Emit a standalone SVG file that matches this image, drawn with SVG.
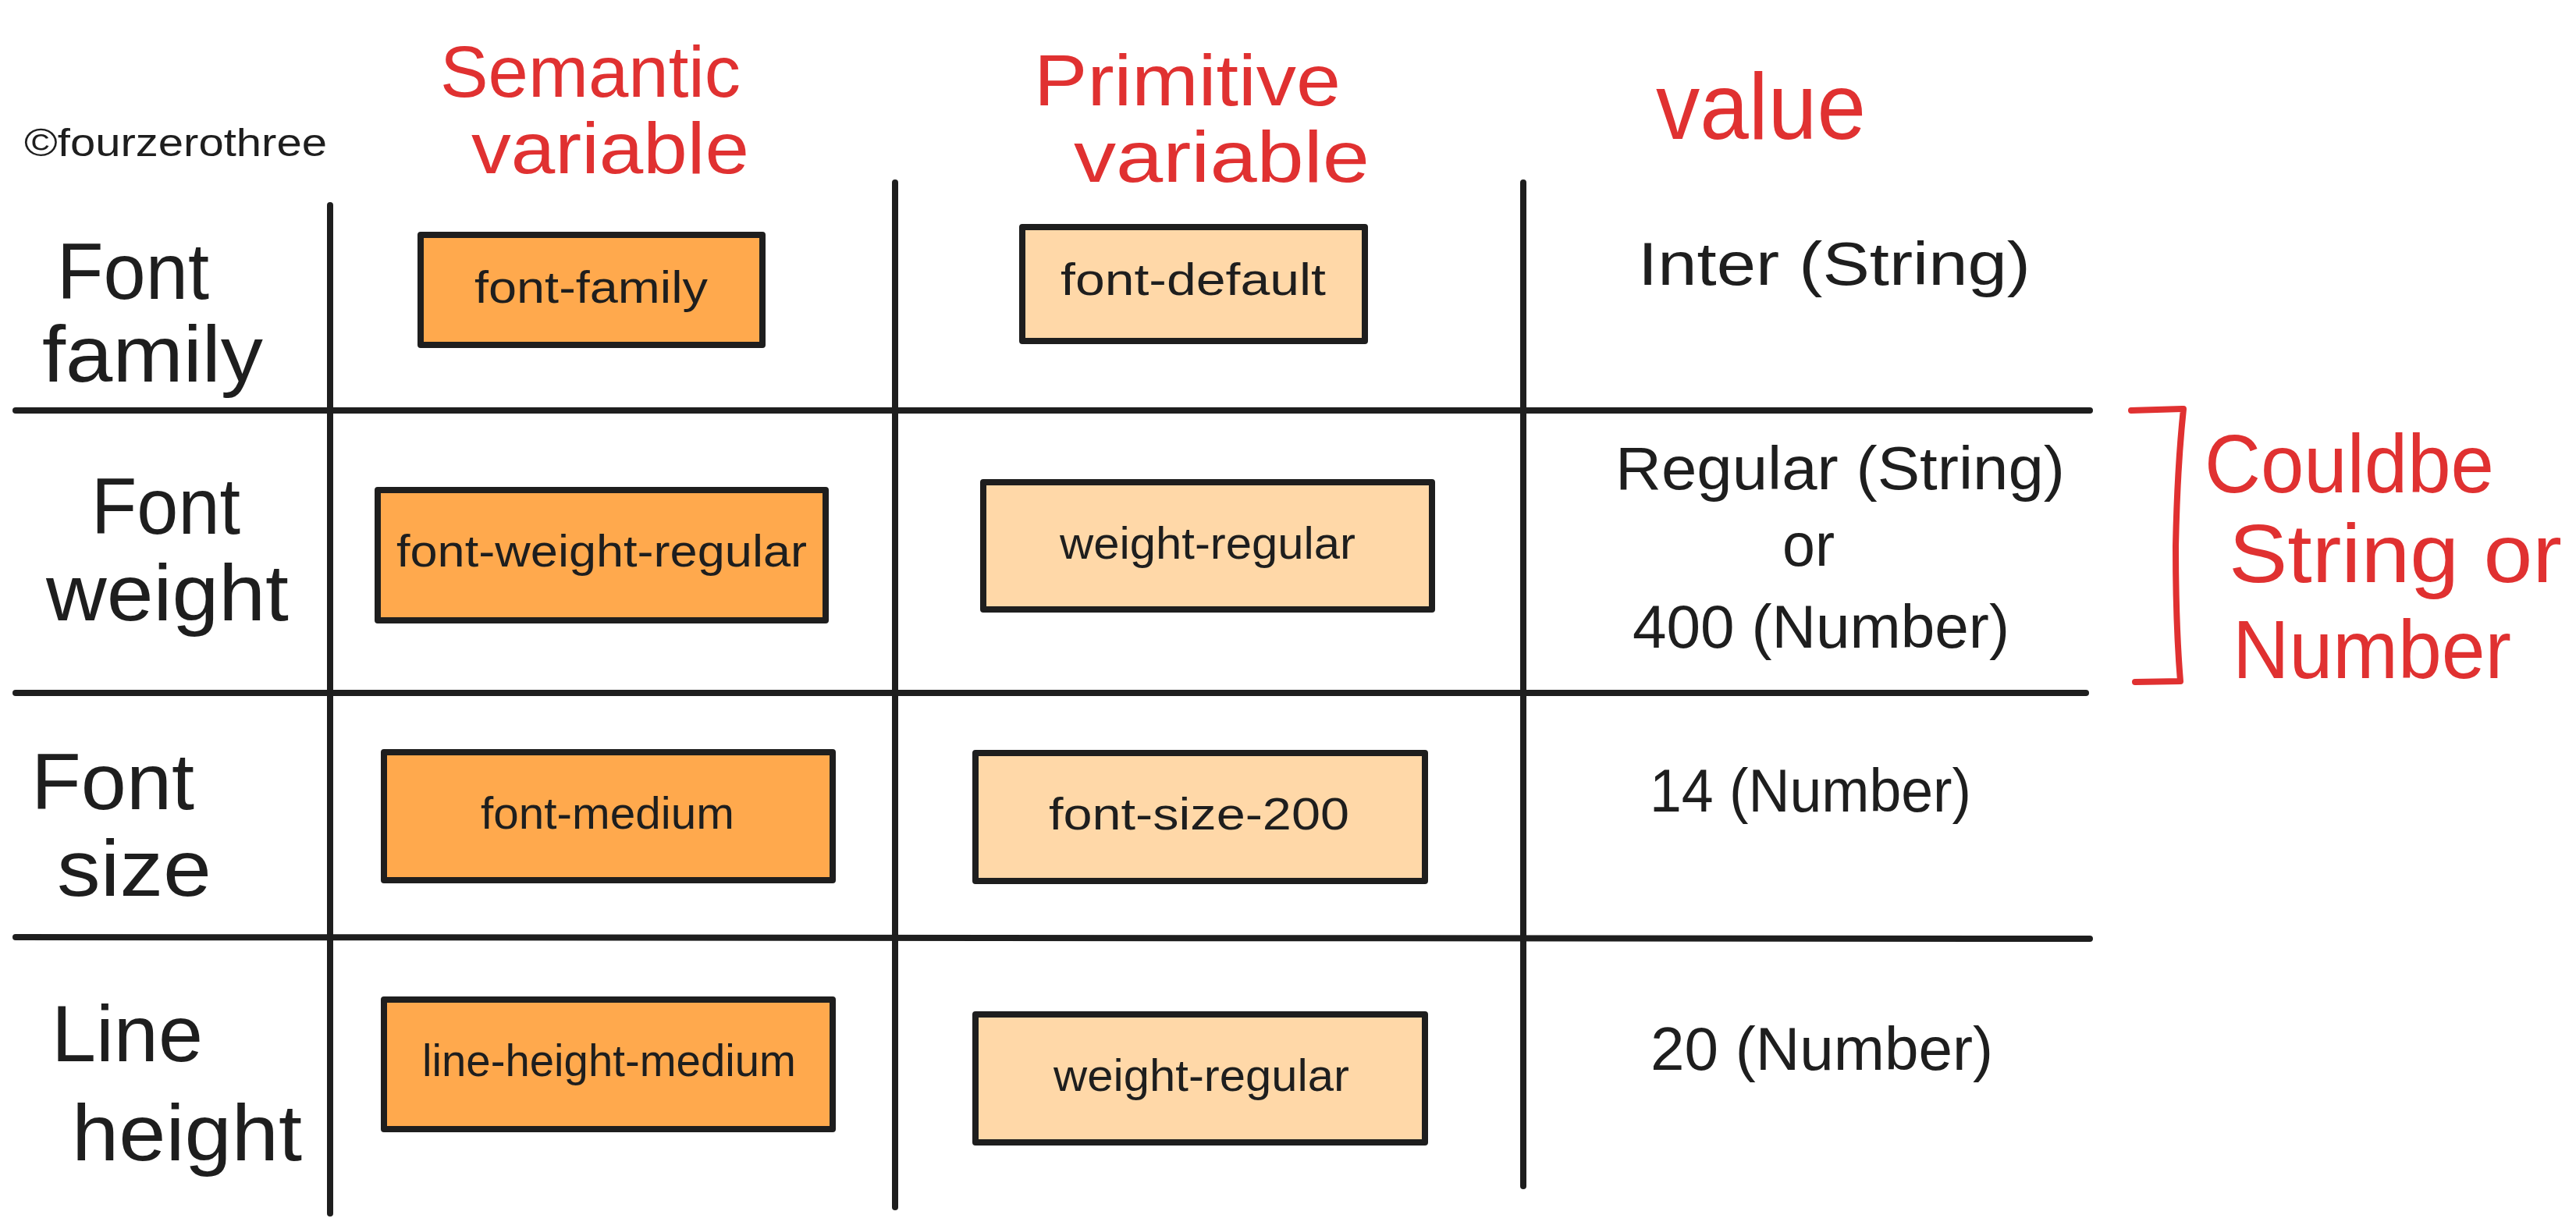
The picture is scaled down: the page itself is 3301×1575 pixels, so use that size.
<svg xmlns="http://www.w3.org/2000/svg" width="3301" height="1575" viewBox="0 0 3301 1575">
<style>
.bg{fill:#ffffff}
.grid line{stroke:#1e1e1e;stroke-width:8;stroke-linecap:round}
.sem{fill:#ffa94d;stroke:#1e1e1e;stroke-width:8;stroke-linejoin:round}
.pri{fill:#ffd8a8;stroke:#1e1e1e;stroke-width:8;stroke-linejoin:round}
text{font-family:"Liberation Sans","Noto Sans",sans-serif}
.hdr{fill:#e03131;font-size:92px}
.lbl{fill:#1e1e1e;font-size:102px}
.bt{fill:#1e1e1e;font-size:58px}
.val{fill:#1e1e1e;font-size:78px}
.note{fill:#e03131;font-size:106px}
.brk{fill:none;stroke:#e03131;stroke-width:8;stroke-linecap:round;stroke-linejoin:round}
</style>
<rect class="bg" x="0" y="0" width="3301" height="1575"/>

<g id="credit">
<text x="31" y="200" style="font-size:50px;fill:#1e1e1e" textLength="388" lengthAdjust="spacingAndGlyphs">©fourzerothree</text>
</g>

<g id="header-semantic">
<text class="hdr" x="564" y="124" textLength="385" lengthAdjust="spacingAndGlyphs">Semantic</text>
<text class="hdr" x="604" y="222" textLength="356" lengthAdjust="spacingAndGlyphs">variable</text>
</g>
<g id="header-primitive">
<text class="hdr" x="1325" y="135" textLength="393" lengthAdjust="spacingAndGlyphs">Primitive</text>
<text class="hdr" x="1376" y="233" textLength="379" lengthAdjust="spacingAndGlyphs">variable</text>
</g>
<g id="header-value">
<text class="hdr" x="2122" y="178" style="font-size:120px" textLength="269" lengthAdjust="spacingAndGlyphs">value</text>
</g>

<g id="connectors" class="grid">
<line x1="423" y1="263" x2="423" y2="1555"/>
<line x1="1147" y1="234" x2="1147" y2="1547"/>
<line x1="1952" y1="234" x2="1952" y2="1520"/>
<line x1="20" y1="526" x2="2678" y2="526"/>
<line x1="20" y1="888" x2="2673" y2="888"/>
<line x1="20" y1="1201" x2="2678" y2="1203"/>
</g>

<g id="label-font-family">
<text class="lbl" x="73" y="383" textLength="195" lengthAdjust="spacingAndGlyphs">Font</text>
<text class="lbl" x="54" y="489" textLength="283" lengthAdjust="spacingAndGlyphs">family</text>
</g>
<g id="label-font-weight">
<text class="lbl" x="117" y="684" textLength="191" lengthAdjust="spacingAndGlyphs">Font</text>
<text class="lbl" x="59" y="795" textLength="311" lengthAdjust="spacingAndGlyphs">weight</text>
</g>
<g id="label-font-size">
<text class="lbl" x="40" y="1037" textLength="209" lengthAdjust="spacingAndGlyphs">Font</text>
<text class="lbl" x="73" y="1148" textLength="198" lengthAdjust="spacingAndGlyphs">size</text>
</g>
<g id="label-line-height">
<text class="lbl" x="66" y="1360" textLength="194" lengthAdjust="spacingAndGlyphs">Line</text>
<text class="lbl" x="92" y="1487" textLength="295" lengthAdjust="spacingAndGlyphs">height</text>
</g>

<g id="sem-font-family">
<rect class="sem" x="539" y="301" width="438" height="141"/>
<text class="bt" x="608" y="388" textLength="299" lengthAdjust="spacingAndGlyphs">font-family</text>
</g>
<g id="pri-font-default">
<rect class="pri" x="1310" y="291" width="439" height="146"/>
<text class="bt" x="1359" y="378" textLength="340" lengthAdjust="spacingAndGlyphs">font-default</text>
</g>
<g id="sem-font-weight-regular">
<rect class="sem" x="484" y="628" width="574" height="167"/>
<text class="bt" x="508" y="726" textLength="526" lengthAdjust="spacingAndGlyphs">font-weight-regular</text>
</g>
<g id="pri-weight-regular-1">
<rect class="pri" x="1260" y="618" width="575" height="163"/>
<text class="bt" x="1358" y="716" textLength="379" lengthAdjust="spacingAndGlyphs">weight-regular</text>
</g>
<g id="sem-font-medium">
<rect class="sem" x="492" y="964" width="575" height="164"/>
<text class="bt" x="616" y="1062" textLength="325" lengthAdjust="spacingAndGlyphs">font-medium</text>
</g>
<g id="pri-font-size-200">
<rect class="pri" x="1250" y="965" width="576" height="164"/>
<text class="bt" x="1344" y="1063" textLength="385" lengthAdjust="spacingAndGlyphs">font-size-200</text>
</g>
<g id="sem-line-height-medium">
<rect class="sem" x="492" y="1281" width="575" height="166"/>
<text class="bt" x="541" y="1379" textLength="479" lengthAdjust="spacingAndGlyphs">line-height-medium</text>
</g>
<g id="pri-weight-regular-2">
<rect class="pri" x="1250" y="1300" width="576" height="164"/>
<text class="bt" x="1350" y="1398" textLength="379" lengthAdjust="spacingAndGlyphs">weight-regular</text>
</g>

<g id="value-font-family">
<text class="val" x="2099" y="365" textLength="503" lengthAdjust="spacingAndGlyphs">Inter (String)</text>
</g>
<g id="value-font-weight">
<text class="val" x="2070" y="627" textLength="576" lengthAdjust="spacingAndGlyphs">Regular (String)</text>
<text class="val" x="2284" y="725" textLength="67" lengthAdjust="spacingAndGlyphs">or</text>
<text class="val" x="2092" y="830" textLength="483" lengthAdjust="spacingAndGlyphs">400 (Number)</text>
</g>
<g id="value-font-size">
<text class="val" x="2114" y="1040" textLength="412" lengthAdjust="spacingAndGlyphs">14 (Number)</text>
</g>
<g id="value-line-height">
<text class="val" x="2115" y="1371" textLength="439" lengthAdjust="spacingAndGlyphs">20 (Number)</text>
</g>

<g id="note-string-or-number">
<path class="brk" d="M2731,526 L2798,524 Q2790,600 2788,700 Q2788,800 2794,873 L2736,874"/>
<text class="note" x="2825" y="631" textLength="371" lengthAdjust="spacingAndGlyphs">Couldbe</text>
<text class="note" x="2856" y="746" textLength="427" lengthAdjust="spacingAndGlyphs">String or</text>
<text class="note" x="2861" y="869" textLength="357" lengthAdjust="spacingAndGlyphs">Number</text>
</g>
</svg>
